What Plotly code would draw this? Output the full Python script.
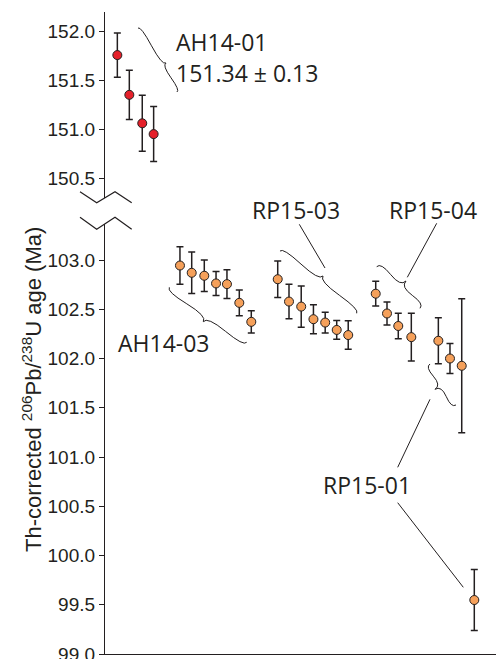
import math
import plotly.graph_objects as go

# ---------------- data ----------------
# x = analysis position along the (unlabelled) horizontal axis
ah1401_x = [1.05, 2.07, 3.17, 4.14]
ah1401_age = [151.755, 151.35, 151.06, 150.95]
ah1401_err = [0.226, 0.25, 0.285, 0.28]

ah1403_x = [6.38, 7.38, 8.45, 9.45, 10.38, 11.43, 12.45]
ah1403_age = [102.944, 102.87, 102.84, 102.762, 102.755, 102.565, 102.372]
ah1403_err = [0.19, 0.21, 0.16, 0.122, 0.145, 0.13, 0.112]

rp1503_x = [14.7, 15.66, 16.7, 17.74, 18.74, 19.72, 20.7]
rp1503_age = [102.805, 102.578, 102.527, 102.399, 102.365, 102.29, 102.238]
rp1503_err = [0.185, 0.175, 0.21, 0.147, 0.105, 0.095, 0.145]

rp1504_x = [23.04, 24.0, 24.96, 26.07]
rp1504_age = [102.658, 102.457, 102.33, 102.217]
rp1504_err = [0.125, 0.117, 0.13, 0.242]

rp1501_x = [28.37, 29.36, 30.36, 31.43]
rp1501_age = [102.18, 102.0, 101.926, 99.548]
rp1501_err = [0.234, 0.152, 0.68, 0.31]

lower_ticks = [99.0, 99.5, 100.0, 100.5, 101.0, 101.5, 102.0, 102.5, 103.0]
upper_ticks = [150.5, 151.0, 151.5, 152.0]

labels = ["AH14-01", "151.34 ± 0.13", "AH14-03", "RP15-03", "RP15-04", "RP15-01"]

# ---------------- layout geometry ----------------
W, H = 496, 659
ML = 105
PW = W - ML
INK = "#231F20"
RED = "#E5202A"
ORANGE = "#F5A05A"


def P(px, py):
    return ((px - ML) / PW, (H - py) / H)


PXU = 98.5  # pixels per Ma on the lower axis
lower_bot_px, lower_top_px = 654.3, 224
lower_dom = [(H - lower_bot_px) / H, (H - lower_top_px) / H]
lower_rng = [99.0 - 0.3 / PXU, 103.0 + (260 - lower_top_px) / PXU]
upper_dom = [(H - 197.7) / H, (H - 12) / H]

fig = go.Figure()


def add_group(x, y, e, color, yaxis):
    fig.add_trace(go.Scatter(
        x=x, y=y, mode="markers", yaxis=yaxis,
        marker=dict(size=9, color=color, line=dict(color=INK, width=1)),
        error_y=dict(type="data", array=e, visible=True, color=INK,
                     thickness=1.5, width=3.5),
        hoverinfo="skip",
    ))


add_group(ah1401_x, ah1401_age, ah1401_err, RED, "y2")
add_group(ah1403_x, ah1403_age, ah1403_err, ORANGE, "y")
add_group(rp1503_x, rp1503_age, rp1503_err, ORANGE, "y")
add_group(rp1504_x, rp1504_age, rp1504_err, ORANGE, "y")
add_group(rp1501_x, rp1501_age, rp1501_err, ORANGE, "y")

shapes = []


def fmt(pt):
    x, y = P(*pt)
    return f"{x:.5f},{y:.5f}"


def brace(A, B, T, q=0.6):
    ax, ay = A
    bx, by = B
    L = math.hypot(bx - ax, by - ay)
    ux, uy = (bx - ax) / L, (by - ay) / L
    nx, ny = -uy, ux
    tx, ty = T[0] - ax, T[1] - ay
    L1 = tx * ux + ty * uy
    w = tx * nx + ty * ny
    L2 = L - L1

    def half(S, dirx, diry, Lh):
        c1 = (S[0] + nx * q * w, S[1] + ny * q * w)
        e1 = (S[0] + dirx * Lh / 2 + nx * (1 - q) * w,
              S[1] + diry * Lh / 2 + ny * (1 - q) * w)
        c2 = (2 * e1[0] - c1[0], 2 * e1[1] - c1[1])
        tip = (S[0] + dirx * Lh + nx * w, S[1] + diry * Lh + ny * w)
        return f"M{fmt(S)} Q{fmt(c1)} {fmt(e1)} Q{fmt(c2)} {fmt(tip)}"

    path = half(A, ux, uy, L1) + " " + half(B, -ux, -uy, L2)
    shapes.append(dict(type="path", xref="paper", yref="paper", path=path,
                       line=dict(color=INK, width=1)))


def line(p0, p1, width=1):
    x0, y0 = P(*p0)
    x1, y1 = P(*p1)
    shapes.append(dict(type="line", xref="paper", yref="paper",
                       x0=x0, y0=y0, x1=x1, y1=y1,
                       line=dict(color=INK, width=width)))


def polyline(pts, width=1.2):
    path = "M" + " L".join(fmt(p) for p in pts)
    shapes.append(dict(type="path", xref="paper", yref="paper", path=path,
                       line=dict(color=INK, width=width)))


# axis-break zigzags
polyline([(80, 191.7), (96.7, 202.7), (115, 191.7), (131.7, 202.7)])
polyline([(80, 217.3), (96.7, 229.3), (115, 217.3), (131.7, 229.3)])

# braces
brace((138, 28), (177, 92), (166, 63))
brace((169.3, 287.3), (246.7, 342.3), (203.3, 321.7))
brace((280, 251), (356.7, 313.3), (323, 276))
brace((376.7, 266.7), (420, 308.3), (406, 281))
brace((430, 364), (456, 405), (435, 389.3))

# leader lines
line((325, 268), (299.3, 224.3))
line((407.3, 277.3), (436.7, 223.3))
line((430, 399.3), (397.7, 467.3))
line((397.7, 502.7), (463.3, 587.3))

annotations = []
label_pos = [(176.7, 42.2), (177.3, 73.3), (119.3, 342.5), (252.7, 210),
             (390, 210), (324, 485)]
for txt, (lx, ly) in zip(labels, label_pos):
    ax_, ay_ = P(lx - 3, ly)
    annotations.append(dict(
        text=txt, x=ax_, y=ay_, xref="paper", yref="paper",
        xanchor="left", yanchor="middle", showarrow=False,
        font=dict(family="Open Sans", size=23, color=INK)))

tx, ty = P(32, 390)
annotations.append(dict(
    text="Th-corrected <sup>206</sup>Pb/<sup>238</sup>U age (Ma)",
    x=tx, y=ty, xref="paper", yref="paper", textangle=-90,
    xanchor="center", yanchor="middle", showarrow=False,
    font=dict(family="Liberation Sans", size=22, color=INK)))

axis_common = dict(
    showline=True, linecolor=INK, linewidth=1.3,
    ticks="outside", ticklen=5, tickwidth=1.3, tickcolor=INK,
    tickformat=".1f", showgrid=False, zeroline=False,
    ticklabeloverflow="allow", automargin=False,
    tickfont=dict(family="Liberation Sans", size=19, color=INK),
)

fig.update_layout(
    width=W, height=H,
    margin=dict(l=ML, r=0, t=0, b=0, autoexpand=False),
    paper_bgcolor="white", plot_bgcolor="white",
    showlegend=False,
    xaxis=dict(range=[0, PW / 11.75], domain=[0, 1], anchor="y",
               showline=True, linecolor=INK, linewidth=1.3,
               showticklabels=False, ticks="", showgrid=False,
               zeroline=False, automargin=False),
    yaxis=dict(domain=lower_dom, range=lower_rng, anchor="x",
               tickvals=lower_ticks, **axis_common),
    yaxis2=dict(domain=upper_dom, range=[150.302, 152.194], anchor="x",
                tickvals=upper_ticks, **axis_common),
    shapes=shapes,
    annotations=annotations,
)

fig.write_html("out.html")
